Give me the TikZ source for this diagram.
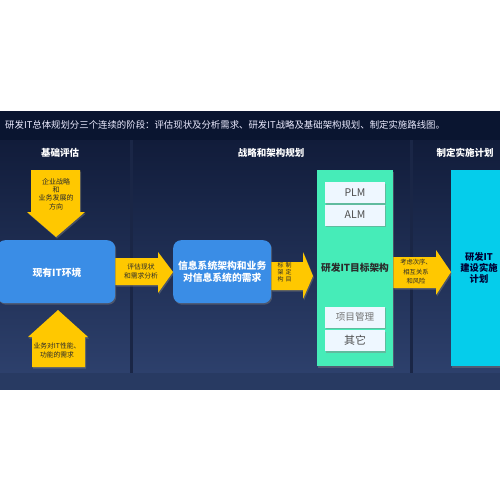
\documentclass[tikz,border=0pt]{standalone}
\usepackage{fontspec}
\setmainfont{Noto Sans CJK SC}
\usetikzlibrary{positioning,shadows}
\definecolor{night}{HTML}{0A1530}
\definecolor{pantop}{HTML}{111C3A}
\definecolor{panbot}{HTML}{2D406C}
\definecolor{strip}{HTML}{283A62}
\definecolor{divider}{HTML}{1A2646}
\definecolor{amber}{HTML}{FFC800}
\definecolor{azure}{HTML}{3A8DE6}
\definecolor{mint}{HTML}{46ECB8}
\definecolor{aqua}{HTML}{05CDEB}
\definecolor{frost}{HTML}{EEF7FF}
\definecolor{slate}{HTML}{2B2B2B}

\begin{document}
\begin{tikzpicture}[x=1pt,y=-1pt,
  every node/.style={inner sep=0pt,align=center},
  shad/.style={drop shadow={opacity=.45,shadow xshift=1pt,shadow yshift=-1.5pt}},
  hdr/.style={text=white,font=\bfseries\fontsize{9.5}{11}\selectfont},
  bigbox/.style={shad,anchor=north west,inner sep=0pt},
  subbox/.style={shad,fill=frost,minimum width=60pt,minimum height=21pt,text=black!70,font=\fontsize{10.5}{12}\selectfont},
  yarrow/.style={fill=amber,shad},
  atext/.style={text=slate,font=\fontsize{6.8}{9}\selectfont}]
  % background and columns
  \useasboundingbox[fill=white] (0,0) rectangle (500,500);
  \clip (0,0) rectangle (500,500);
  \fill[night] (0,111) rectangle (500,140);
  \shade[top color=pantop,bottom color=panbot] (0,140) rectangle (500,373);
  \fill[strip] (0,373) rectangle (500,390);
  \fill[divider] (130,140) rectangle (133,373);
  \fill[divider] (410,140) rectangle (413,373);
  \node[anchor=west,text=white!92!blue,font=\fontsize{9.4}{11}\selectfont] (title) at (5,125)
    {研发IT总体规划分三个连续的阶段：评估现状及分析需求、研发IT战略及基础架构规划、制定实施路线图。};
  \node[hdr] (h1) at (60,153) {基础评估};
  \node[hdr] (h2) at (271,153) {战略和架构规划};
  \node[hdr] (h3) at (465,153) {制定实施计划};

  % boxes
  \node[bigbox,fill=azure,rounded corners=8pt,minimum width=118pt,minimum height=63pt] (env) at (-3,240) {};
  \node[hdr,font=\bfseries\fontsize{9.8}{12}\selectfont] at (57,273) {现有IT环境};
  \node[bigbox,fill=azure,rounded corners=8pt,minimum width=98pt,minimum height=63pt] (need) at (173,240) {};
  \node[hdr,font=\bfseries\fontsize{9.8}{12}\selectfont] at (need.center) {信息系统架构和业务\\对信息系统的需求};
  \node[bigbox,fill=mint,minimum width=76pt,minimum height=196pt] (target) at (317,170) {};
  \node[text=slate,font=\bfseries\fontsize{9.7}{12}\selectfont] at (355,268) {研发IT目标架构};
  \node[bigbox,fill=aqua,minimum width=60pt,minimum height=196pt] (plan) at (451,170) {};
  \node[text=black!80!blue,font=\bfseries\fontsize{9.3}{11}\selectfont] at (479,268) {研发IT\\建设实施\\计划};

  \node[subbox] (plm) at (355,192.5) {PLM};
  \node[subbox] (alm) at (355,215) {ALM};
  \node[subbox,text=black!55,font=\fontsize{9.6}{12}\selectfont] (pm) at (355,317) {项目管理};
  \node[subbox,font=\fontsize{11}{12}\selectfont] (other) at (355,340.5) {其它};

  % block arrows
  \fill[yarrow] (31,170) -- (80,170) -- (80,212) -- (85,212) -- (56,237) -- (27,212) -- (31,212) -- cycle;
  \node[atext,font=\fontsize{7}{8.4}\selectfont] (goal) at (56,194) {企业战略\\和\\业务发展的\\方向};
  \fill[yarrow] (32,367) -- (85,367) -- (85,337) -- (88,337) -- (58,310) -- (28,337) -- (32,337) -- cycle;
  \node[atext] (perf) at (57,350) {业务对IT性能、\\功能的需求};
  \fill[yarrow] (env.east |- 0,258) -- (158,258) -- (158,252) -- (need.west |- 0,272) -- (158,293) -- (158,285) -- (env.east |- 0,285) -- cycle;
  \node[atext] (assess) at (141,271.5) {评估现状\\和需求分析};
  \fill[yarrow] (need.east |- 0,262) -- (303,262) -- (303,252) -- (313,276) -- (303,299) -- (303,290) -- (need.east |- 0,290) -- cycle;
  \node[atext,font=\fontsize{6}{7}\selectfont] (set1) at (288.5,272) {制\\定\\目};
  \node[atext,font=\fontsize{6}{7}\selectfont] (set2) at (280.5,272) {标\\架\\构};
  \fill[yarrow] (target.east |- 0,257) -- (436,257) -- (436,250) -- (plan.west |- 0,272) -- (436,295) -- (436,288) -- (target.east |- 0,288) -- cycle;
  \node[atext,font=\fontsize{6.3}{9.5}\selectfont] (order) at (416,272) {考虑次序、\\相互关系\\和风险};
\end{tikzpicture}
\end{document}
